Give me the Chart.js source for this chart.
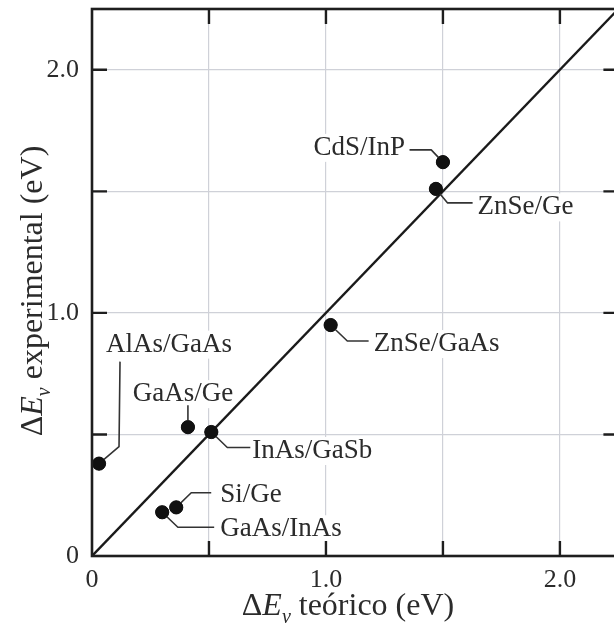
<!DOCTYPE html>
<html><head><meta charset="utf-8">
<script src="https://cdn.jsdelivr.net/npm/chart.js@4/dist/chart.umd.min.js"></script>
<style>
html,body{margin:0;padding:0;background:#fff;overflow:hidden}
#wrap{width:614px;height:625px;overflow:hidden;position:relative}
canvas{display:block}
</style>
</head><body><div id="wrap"><canvas id="c" width="626" height="625"></canvas></div>
<script>
// ---- data ----
const materials = ['AlAs/GaAs','GaAs/Ge','InAs/GaSb','Si/Ge','GaAs/InAs','ZnSe/GaAs','CdS/InP','ZnSe/Ge'];
const deltaEvTeorico = [0.03, 0.41, 0.51, 0.36, 0.30, 1.02, 1.50, 1.47];
const deltaEvExperimental = [0.38, 0.53, 0.51, 0.20, 0.18, 0.95, 1.62, 1.51];
const identityX = [0, 2.25];
const identityY = [0, 2.25];
const tickValues = [0, 1, 2];
const tickLabels = ['0', '1.0', '2.0'];
const xTitleParts = ['Δ', 'E', 'v', ' teórico (eV)'];
const yTitleParts = ['Δ', 'E', 'v', ' experimental (eV)'];

// ---- callout styling (pixel offsets from each point) ----
const callouts = {
  'AlAs/GaAs': {path: [[0,0],[20,-17],[21,-102]], text: [70,-112], align: 'center'},
  'GaAs/Ge':   {path: [[0,-6],[0,-22]], text: [-5,-26], align: 'center'},
  'InAs/GaSb': {path: [[0,0],[16,15.5],[39,15.5]], text: [41,26], align: 'left'},
  'Si/Ge':     {path: [[0,0],[15,-14.6],[35,-14.6]], text: [44,-5.5], align: 'left'},
  'GaAs/InAs': {path: [[0,0],[15.7,15],[52,15]], text: [58,24], align: 'left'},
  'ZnSe/GaAs': {path: [[0,0],[16.7,16],[38,16]], text: [43,26], align: 'left'},
  'CdS/InP':   {path: [[0,0],[-11.7,-12.3],[-33.4,-12.3]], text: [-38,-7.3], align: 'right'},
  'ZnSe/Ge':   {path: [[0,0],[11.7,14],[36.7,14]], text: [41.5,25.5], align: 'left'}
};

const FONT = '"Liberation Serif", "Times New Roman", serif';
const TEXT = '#2b2b2b';
const LABEL_SIZE = 27;

function labelBox(ctx, name, px, py) {
  const c = callouts[name];
  ctx.font = LABEL_SIZE + 'px ' + FONT;
  const w = ctx.measureText(name).width;
  const tx = px + c.text[0], ty = py + c.text[1];
  let x0 = tx;
  if (c.align === 'center') x0 = tx - w/2;
  if (c.align === 'right') x0 = tx - w;
  return {x0, w, tx, ty};
}

function drawRich(ctx, parts, size, x, y, rotate) {
  const segs = [
    {t: parts[0], f: size + 'px ' + FONT, dy: 0},
    {t: parts[1], f: 'italic ' + size + 'px ' + FONT, dy: 0},
    {t: parts[2], f: 'italic ' + Math.round(size*0.62) + 'px ' + FONT, dy: size*0.24},
    {t: parts[3], f: size + 'px ' + FONT, dy: 0}
  ];
  let total = 0;
  segs.forEach(s => { ctx.font = s.f; s.w = ctx.measureText(s.t).width; total += s.w; });
  ctx.save();
  ctx.translate(x, y);
  if (rotate) ctx.rotate(-Math.PI/2);
  ctx.fillStyle = TEXT;
  ctx.textBaseline = 'alphabetic';
  ctx.textAlign = 'left';
  let cx = -total/2;
  segs.forEach(s => { ctx.font = s.f; ctx.fillText(s.t, cx, s.dy); cx += s.w; });
  ctx.restore();
}

const decor = {
  id: 'decor',
  beforeDatasetsDraw(chart) {
    const ctx = chart.ctx;
    const meta = chart.getDatasetMeta(1);
    ctx.save();
    ctx.fillStyle = '#fff';
    meta.data.forEach((pt, i) => {
      const b = labelBox(ctx, materials[i], pt.x, pt.y);
      ctx.fillRect(b.x0 - 3, b.ty - 21, b.w + 6, 28);
    });
    ctx.restore();
  },
  afterDatasetsDraw(chart) {
    const ctx = chart.ctx;
    const meta = chart.getDatasetMeta(1);
    ctx.save();
    meta.data.forEach((pt, i) => {
      const name = materials[i];
      const c = callouts[name];
      ctx.strokeStyle = '#333';
      ctx.lineWidth = 1.6;
      ctx.lineJoin = 'round';
      ctx.beginPath();
      c.path.forEach((p, k) => { const fx = pt.x + p[0], fy = pt.y + p[1]; k ? ctx.lineTo(fx, fy) : ctx.moveTo(fx, fy); });
      ctx.stroke();
      const b = labelBox(ctx, name, pt.x, pt.y);
      ctx.fillStyle = TEXT;
      ctx.textAlign = c.align;
      ctx.textBaseline = 'alphabetic';
      ctx.fillText(name, b.tx, b.ty);
    });
    ctx.fillStyle = '#111';
    meta.data.forEach(pt => { ctx.beginPath(); ctx.arc(pt.x, pt.y, 6.6, 0, Math.PI*2); ctx.fill(); });
    ctx.restore();
  },
  afterDraw(chart) {
    const {ctx, chartArea: {left, right, top, bottom}, scales: {x, y}} = chart;
    ctx.save();
    ctx.strokeStyle = '#1e1e1e';
    ctx.lineWidth = 2.6;
    ctx.strokeRect(left, top, right - left, bottom - top);
    ctx.lineWidth = 2.4;
    ctx.beginPath();
    x.ticks.forEach(t => {
      if (t.value <= 0) return;
      const px = x.getPixelForValue(t.value);
      ctx.moveTo(px, bottom); ctx.lineTo(px, bottom - 15);
      ctx.moveTo(px, top); ctx.lineTo(px, top + 15);
    });
    y.ticks.forEach(t => {
      if (t.value <= 0) return;
      const py = y.getPixelForValue(t.value);
      ctx.moveTo(left, py); ctx.lineTo(left + 15, py);
      ctx.moveTo(right, py); ctx.lineTo(right - 15, py);
    });
    ctx.stroke();
    ctx.restore();
    drawRich(ctx, xTitleParts, 32, 348, 615, false);
    drawRich(ctx, yTitleParts, 32, 42, 291, true);
  }
};

function tickCb(v) {
  const i = tickValues.findIndex(t => Math.abs(t - v) < 1e-6);
  return i >= 0 ? tickLabels[i] : '';
}

const gridColor = ctx => (ctx.tick && ctx.tick.value === 0) ? 'rgba(0,0,0,0)' : '#cfd1d8';

new Chart(document.getElementById('c'), {
  data: {
    datasets: [
      {
        type: 'line',
        label: 'ΔEv experimental = ΔEv teórico',
        data: identityX.map((v, i) => ({x: v, y: identityY[i]})),
        borderColor: '#1a1a1a',
        borderWidth: 2.4,
        pointRadius: 0,
        fill: false,
        order: 2
      },
      {
        type: 'scatter',
        label: 'Heterouniones',
        data: deltaEvTeorico.map((v, i) => ({x: v, y: deltaEvExperimental[i]})),
        backgroundColor: '#111',
        borderColor: '#111',
        pointRadius: 6.6,
        order: 1
      }
    ]
  },
  options: {
    responsive: false,
    animation: false,
    devicePixelRatio: 1,
    layout: {padding: {top: 9, right: 1, left: 0, bottom: 0}},
    plugins: {legend: {display: false}, tooltip: {enabled: false}},
    scales: {
      x: {
        type: 'linear', min: 0, max: 2.25,
        border: {display: false},
        grid: {color: gridColor, lineWidth: 1.2, drawTicks: false},
        ticks: {stepSize: 0.5, includeBounds: false, autoSkip: false, maxRotation: 0,
                padding: 9, color: TEXT, font: {family: FONT, size: 26}, callback: tickCb},
        afterFit: s => { s.height = 69; s.paddingLeft = 0; s.paddingRight = 0; }
      },
      y: {
        type: 'linear', min: 0, max: 2.25,
        border: {display: false},
        grid: {color: gridColor, lineWidth: 1.2, drawTicks: false},
        ticks: {stepSize: 0.5, includeBounds: false, autoSkip: false,
                padding: 13, color: TEXT, font: {family: FONT, size: 26}, callback: tickCb},
        afterFit: s => { s.width = 92; s.paddingTop = 0; s.paddingBottom = 0; }
      }
    }
  },
  plugins: [decor]
});
</script>
</body></html>
